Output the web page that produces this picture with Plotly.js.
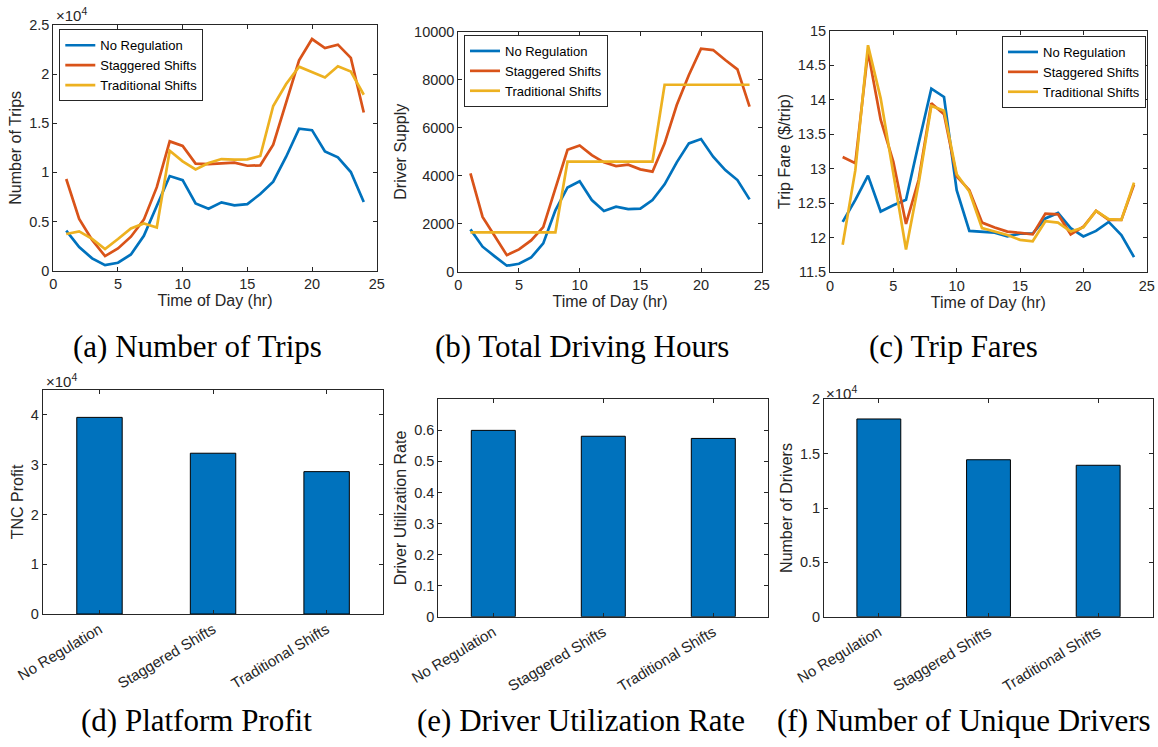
<!DOCTYPE html>
<html>
<head>
<meta charset="utf-8">
<script src="https://cdn.plot.ly/plotly-3.0.1.min.js"></script>
<style>html,body{margin:0;padding:0;background:#fff;}#chart{width:1158px;height:747px;}</style>
</head>
<body>
<div id="chart"></div>
<script>
// ---------- DATA ----------
const hours = [1,2,3,4,5,6,7,8,9,10,11,12,13,14,15,16,17,18,19,20,21,22,23,24];
const seriesNames = ["No Regulation", "Staggered Shifts", "Traditional Shifts"];

const tripsNoReg = [4070,2400,1260,560,810,1650,3550,6600,9630,9210,6850,6310,6950,6650,6780,7800,9060,11600,14450,14300,12140,11530,10040,6990];
const tripsStag  = [9330,5270,3120,1490,2270,3460,5190,8500,13160,12690,10890,10850,10920,10990,10680,10720,12820,17200,21400,23570,22660,23000,21660,16100];
const tripsTrad  = [3730,4000,3240,2200,3220,4290,4810,4400,12210,11130,10310,10960,11360,11300,11330,11670,16760,19000,20750,20240,19660,20800,20270,17900];

const supplyNoReg = [1764,1042,640,250,330,590,1180,2560,3510,3770,2986,2528,2708,2611,2625,2986,3639,4556,5347,5528,4792,4236,3819,3014];
const supplyStag  = [4097,2280,1490,690,931,1305,1860,3430,5080,5260,4861,4556,4403,4458,4264,4167,5347,6944,8194,9292,9236,8819,8431,6875];
const supplyTrad  = [1640,1640,1640,1640,1640,1640,1640,1640,4590,4590,4590,4590,4590,4590,4590,4590,7790,7790,7790,7790,7790,7790,7790,7790];

const fareNoReg = [12.23,12.55,12.90,12.38,12.47,12.55,13.37,14.16,14.04,12.69,12.10,12.09,12.075,12.02,12.06,12.06,12.28,12.36,12.14,12.02,12.10,12.23,12.04,11.72];
const fareStag  = [13.17,13.08,14.70,13.71,13.10,12.20,12.84,13.95,13.79,12.89,12.69,12.22,12.15,12.09,12.07,12.05,12.35,12.34,12.05,12.16,12.39,12.26,12.26,12.77];
const fareTrad  = [11.90,12.98,14.79,14.02,12.93,11.83,12.79,13.91,13.84,12.92,12.67,12.14,12.09,12.04,11.97,11.95,12.24,12.22,12.09,12.15,12.39,12.27,12.26,12.80];

const barCategories = ["No Regulation", "Staggered Shifts", "Traditional Shifts"];
const tncProfit   = [39500, 32300, 28600];
const utilization = [0.600, 0.581, 0.574];
const uniqueDrivers = [18190, 14440, 13930];

const tickE4_a = ["0","0.5","1","1.5","2","2.5"];
const tickE4_d = ["0","1","2","3","4"];
const tickE4_f = ["0","0.5","1","1.5","2"];

const captions = ["(a) Number of Trips","(b) Total Driving Hours","(c) Trip Fares",
                  "(d) Platform Profit","(e) Driver Utilization Rate","(f) Number of Unique Drivers"];

// ---------- STYLE / LAYOUT ----------
const W = 1158, H = 747;
const colors = ["#0072BD", "#D95319", "#EDB120"];
const axisColor = "#262626";
const sans = "Liberation Sans, Arial, sans-serif";
const serif = "Liberation Serif, Times New Roman, serif";

function dom(x0, x1, y0, y1) {  // pixel box -> domains
  return {x: [x0 / W, x1 / W], y: [1 - y1 / H, 1 - y0 / H]};
}
const boxes = [
  dom(53.3, 376.7, 25, 270.7),
  dom(458.3, 761.7, 31.7, 271.7),
  dom(830, 1146.7, 30.7, 272.3),
  dom(42.7, 383.4, 390, 614),
  dom(438.3, 768.3, 399.3, 616.7),
  dom(824, 1153, 399.3, 616.7)
];

const traces = [];
const lineSets = [
  [tripsNoReg, tripsStag, tripsTrad],
  [supplyNoReg, supplyStag, supplyTrad],
  [fareNoReg, fareStag, fareTrad]
];
const legendIds = ["legend", "legend2", "legend3"];
lineSets.forEach((set, p) => {
  set.forEach((ys, i) => {
    traces.push({
      type: "scatter", mode: "lines", x: hours, y: ys, name: seriesNames[i],
      line: {color: colors[i], width: 2.7},
      xaxis: p === 0 ? "x" : "x" + (p + 1), yaxis: p === 0 ? "y" : "y" + (p + 1),
      legend: legendIds[p], showlegend: true
    });
  });
});
[tncProfit, utilization, uniqueDrivers].forEach((vals, k) => {
  const p = k + 4;
  traces.push({
    type: "bar", x: barCategories, y: vals, width: 0.4,
    marker: {color: "#0072BD", line: {color: "#000", width: 1}},
    xaxis: "x" + p, yaxis: "y" + p, showlegend: false
  });
});

function baseAxis(extra) {
  return Object.assign({
    showline: true, linecolor: axisColor, linewidth: 1, mirror: "ticks",
    ticks: "inside", ticklen: 4, tickcolor: axisColor, tickwidth: 1,
    showgrid: false, zeroline: false,
    tickfont: {family: sans, size: 14.5, color: axisColor},
    title: {font: {family: sans, size: 16, color: axisColor}}
  }, extra);
}

const layout = {
  width: W, height: H, margin: {l: 0, r: 0, t: 0, b: 0},
  paper_bgcolor: "#fff", plot_bgcolor: "#fff",
  bargap: 0, annotations: []
};

const xTitles = ["Time of Day (hr)", "Time of Day (hr)", "Time of Day (hr)"];
const yTitles = ["Number of Trips", "Driver Supply", "Trip Fare ($/trip)", "TNC Profit", "Driver Utilization Rate", "Number of Drivers"];
const yCfg = [
  {range: [0, 25000], tickvals: [0,5000,10000,15000,20000,25000], ticktext: tickE4_a},
  {range: [0, 10000], tickvals: [0,2000,4000,6000,8000,10000], ticktext: ["0","2000","4000","6000","8000","10000"]},
  {range: [11.5, 15], tickvals: [11.5,12,12.5,13,13.5,14,14.5,15], ticktext: ["11.5","12","12.5","13","13.5","14","14.5","15"]},
  {range: [0, 45000], tickvals: [0,10000,20000,30000,40000], ticktext: tickE4_d},
  {range: [0, 0.7], tickvals: [0,0.1,0.2,0.3,0.4,0.5,0.6], ticktext: ["0","0.1","0.2","0.3","0.4","0.5","0.6"]},
  {range: [0, 20000], tickvals: [0,5000,10000,15000,20000], ticktext: tickE4_f}
];

for (let p = 0; p < 6; p++) {
  const xs = p === 0 ? "xaxis" : "xaxis" + (p + 1);
  const ys = p === 0 ? "yaxis" : "yaxis" + (p + 1);
  const xa = p === 0 ? "x" : "x" + (p + 1);
  const ya = p === 0 ? "y" : "y" + (p + 1);
  if (p < 3) {
    layout[xs] = baseAxis({domain: boxes[p].x, anchor: ya, range: [0, 25], tickvals: [0,5,10,15,20,25]});
    layout[xs].title.text = xTitles[p];
    layout[xs].title.standoff = 3;
  } else {
    layout[xs] = baseAxis({domain: boxes[p].x, anchor: ya, type: "category", range: [-0.5, 2.5], tickangle: -31});
    layout[xs].tickfont = {family: sans, size: 15, color: axisColor};
  }
  layout[ys] = baseAxis(Object.assign({domain: boxes[p].y, anchor: xa}, yCfg[p]));
  layout[ys].tickmode = "array";
  layout[ys].title.text = yTitles[p];
  layout[ys].title.standoff = 3;
}

// legends
const legPos = [[59.3, 29.3], [464, 35], [1002, 36]];
legendIds.forEach((id, i) => {
  layout[id] = {
    x: legPos[i][0] / W, y: 1 - legPos[i][1] / H, xanchor: "left", yanchor: "top",
    xref: "paper", yref: "paper",
    bgcolor: "#fff", bordercolor: axisColor, borderwidth: 1,
    font: {family: sans, size: 13, color: "#000"}, itemwidth: 30, tracegroupgap: 0
  };
});

// exponent labels
const expPos = [[54, 14], [44, 380], [824, 392]];
expPos.forEach(pp => {
  layout.annotations.push({
    xref: "paper", yref: "paper", x: pp[0] / W, y: 1 - pp[1] / H, xanchor: "left", yanchor: "middle",
    text: "×10<sup>4</sup>", showarrow: false, font: {family: sans, size: 15, color: axisColor}
  });
});

// captions
const capPos = [[197, 346], [582, 346], [953, 346], [196, 720], [581, 720], [964, 720]];
captions.forEach((c, i) => {
  layout.annotations.push({
    xref: "paper", yref: "paper", x: capPos[i][0] / W, y: 1 - capPos[i][1] / H,
    xanchor: "center", yanchor: "middle", text: c, showarrow: false,
    font: {family: serif, size: 31, color: "#000"}
  });
});

Plotly.newPlot("chart", traces, layout, {displayModeBar: false, staticPlot: true});
</script>
</body>
</html>
